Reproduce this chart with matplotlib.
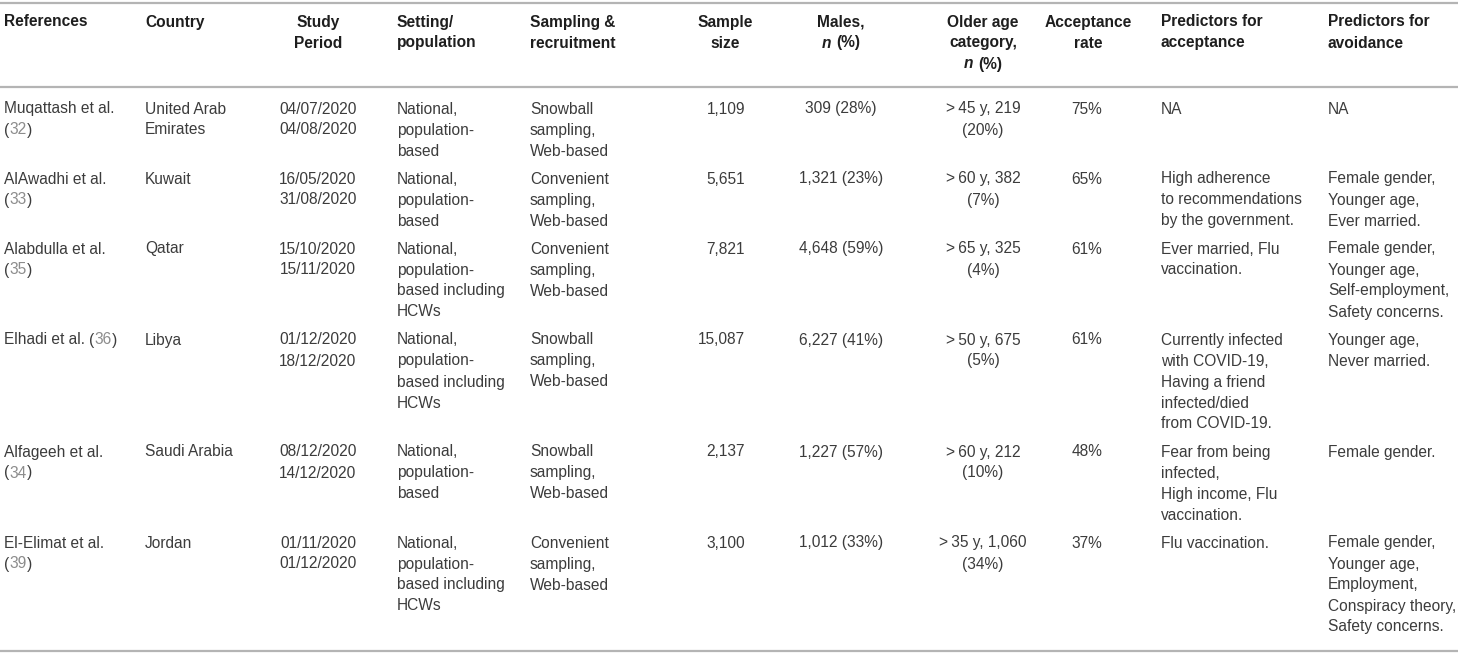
import matplotlib
matplotlib.use("Agg")
import matplotlib.pyplot as plt

plt.rcParams['font.family'] = ['Liberation Sans', 'DejaVu Sans']

# -----------------------------------------------------------------------------
# Daten der Tabelle
# -----------------------------------------------------------------------------
headers = ["References", "Country", "Study\nPeriod", "Setting/\npopulation",
           "Sampling &\nrecruitment", "Sample\nsize", "Males,\nn (%)",
           "Older age\ncategory,\nn (%)", "Acceptance\nrate",
           "Predictors for\nacceptance", "Predictors for\navoidance"]

references = ["Muqattash et al.\n(32)", "AlAwadhi et al.\n(33)", "Alabdulla et al.\n(35)",
              "Elhadi et al. (36)", "Alfageeh et al.\n(34)", "El-Elimat et al.\n(39)"]
countries = ["United Arab\nEmirates", "Kuwait", "Qatar", "Libya", "Saudi Arabia", "Jordan"]
periods = ["04/07/2020\n04/08/2020", "16/05/2020\n31/08/2020", "15/10/2020\n15/11/2020",
           "01/12/2020\n18/12/2020", "08/12/2020\n14/12/2020", "01/11/2020\n01/12/2020"]
settings = ["National,\npopulation-\nbased",
            "National,\npopulation-\nbased",
            "National,\npopulation-\nbased including\nHCWs",
            "National,\npopulation-\nbased including\nHCWs",
            "National,\npopulation-\nbased",
            "National,\npopulation-\nbased including\nHCWs"]
sampling = ["Snowball\nsampling,\nWeb-based", "Convenient\nsampling,\nWeb-based",
            "Convenient\nsampling,\nWeb-based", "Snowball\nsampling,\nWeb-based",
            "Snowball\nsampling,\nWeb-based", "Convenient\nsampling,\nWeb-based"]
sample_size = [1109, 5651, 7821, 15087, 2137, 3100]
males_n = [309, 1321, 4648, 6227, 1227, 1012]
males_pct = [28, 23, 59, 41, 57, 33]
older_cut = [45, 60, 65, 50, 60, 35]
older_n = [219, 382, 325, 675, 212, 1060]
older_pct = [20, 7, 4, 5, 10, 34]
acceptance = [75, 65, 61, 61, 48, 37]
pred_accept = ["NA",
               "High adherence\nto recommendations\nby the government.",
               "Ever married, Flu\nvaccination.",
               "Currently infected\nwith COVID-19,\nHaving a friend\ninfected/died\nfrom COVID-19.",
               "Fear from being\ninfected,\nHigh income, Flu\nvaccination.",
               "Flu vaccination."]
pred_avoid = ["NA",
              "Female gender,\nYounger age,\nEver married.",
              "Female gender,\nYounger age,\nSelf-employment,\nSafety concerns.",
              "Younger age,\nNever married.",
              "Female gender.",
              "Female gender,\nYounger age,\nEmployment,\nConspiracy theory,\nSafety concerns."]

# -----------------------------------------------------------------------------
# Layout
# -----------------------------------------------------------------------------
W, H = 1458, 655
FS = 11.2
LINE = 21.0
ROW_PAD = 7.0
COL_X = [4, 145, 318, 397, 530, 745, 841, 983, 1087, 1161, 1328]
HEAD_HA = ['left', 'left', 'center', 'left', 'left', 'center', 'center', 'center',
           'center', 'left', 'left']
HEAD_X = [4, 145, 318, 397, 530, 725, 841, 983, 1088, 1161, 1328]
BODY_HA = ['left', 'left', 'center', 'left', 'left', 'right', 'center', 'center',
           'center', 'left', 'left']

TXT = '#3c3c3c'
HEAD = '#1e1e1e'
REFNUM = '#8c8c8c'
RULE = '#b4b4b4'

fig = plt.figure(figsize=(W / 100, H / 100), dpi=100)
fig.patch.set_facecolor('white')
ax = fig.add_axes([0, 0, 1, 1])
ax.set_xlim(0, W)
ax.set_ylim(H, 0)
ax.axis('off')
renderer = fig.canvas.get_renderer()
SPACE = FS * 100 / 72 * 0.278


def draw_runs(x, y, runs, ha='left'):
    """runs: Liste von (text, farbe, gewicht, stil); text ' ' = Leerraum"""
    widths = []
    for txt, col, w, st in runs:
        if txt == ' ':
            widths.append(SPACE)
            continue
        t = ax.text(0, 0, txt, fontsize=FS, weight=w, style=st)
        widths.append(t.get_window_extent(renderer=renderer).width)
        t.remove()
    total = sum(widths)
    cur = x if ha == 'left' else (x - total / 2 if ha == 'center' else x - total)
    for (txt, col, w, st), wd in zip(runs, widths):
        if txt != ' ':
            ax.text(cur, y, txt, fontsize=FS, color=col, weight=w, style=st,
                    ha='left', va='center')
        cur += wd


def ref_runs(line):
    # Nummer in Klammern grau einfärben
    if '(' in line:
        pre, rest = line.split('(', 1)
        num = rest.rstrip(')')
        runs = []
        if pre.strip():
            runs += [(pre.strip(), TXT, 'normal', 'normal'), (' ', None, None, None)]
        runs += [('(', TXT, 'normal', 'normal'), (num, REFNUM, 'normal', 'normal'),
                 (')', TXT, 'normal', 'normal')]
        return runs
    return [(line, TXT, 'normal', 'normal')]


# Linien
for yy in (3, 87, 651):
    ax.plot([0, W], [yy, yy], color=RULE, linewidth=1.6, solid_capstyle='butt')

# Kopfzeile
HEAD_Y = 22
for j, h in enumerate(headers):
    for i, line in enumerate(h.split('\n')):
        y = HEAD_Y + i * LINE
        if line == 'n (%)':
            draw_runs(HEAD_X[j], y, [('n', HEAD, 'bold', 'italic'), (' ', None, None, None),
                                     ('(%)', HEAD, 'bold', 'normal')], ha=HEAD_HA[j])
        else:
            ax.text(HEAD_X[j], y, line, fontsize=FS, weight='bold', color=HEAD,
                    ha=HEAD_HA[j], va='center')

# Tabellenkörper
row_y = 109
for r in range(len(references)):
    cells = [references[r], countries[r], periods[r], settings[r], sampling[r],
             f"{sample_size[r]:,}", f"{males_n[r]:,} ({males_pct[r]}%)",
             f">\u2009{older_cut[r]} y, {older_n[r]:,}\n({older_pct[r]}%)",
             f"{acceptance[r]}%", pred_accept[r], pred_avoid[r]]
    n_lines = max(c.count('\n') + 1 for c in cells)
    for j, cell in enumerate(cells):
        for i, line in enumerate(cell.split('\n')):
            y = row_y + i * LINE
            if j == 0:
                draw_runs(COL_X[j], y, ref_runs(line), ha='left')
            else:
                ax.text(COL_X[j], y, line, fontsize=FS, color=TXT,
                        ha=BODY_HA[j], va='center')
    row_y += n_lines * LINE + ROW_PAD

fig.savefig('out.png', dpi=100, facecolor='white')
